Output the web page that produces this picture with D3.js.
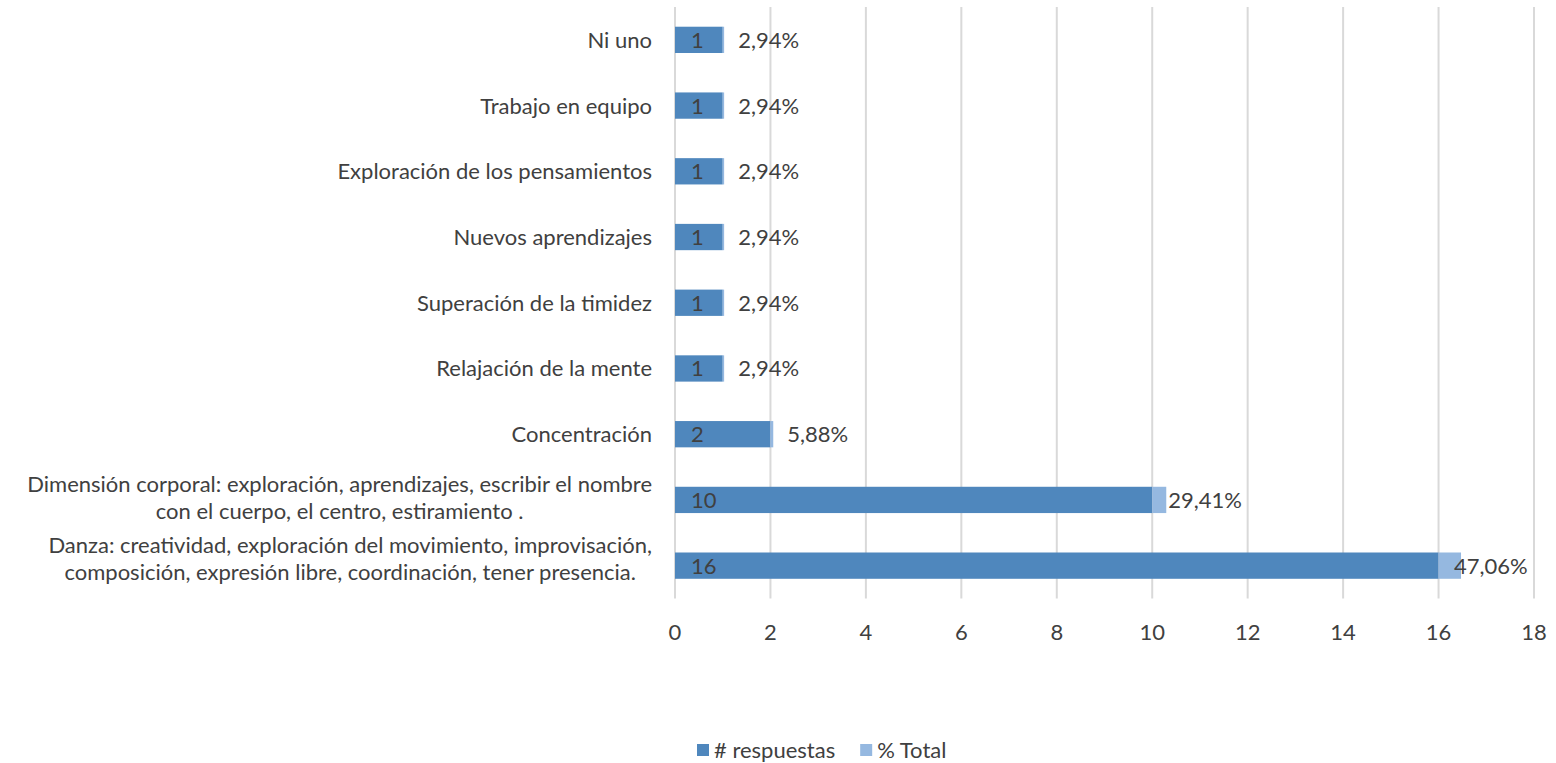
<!DOCTYPE html>
<html>
<head>
<meta charset="utf-8">
<script src="https://cdn.jsdelivr.net/npm/d3@7"></script>
<style>
  body { margin: 0; background: #fff; }
  text { font-family: Lato, "Open Sans", sans-serif; fill: #404040; }
</style>
</head>
<body>
<svg id="chart" width="1556" height="763"></svg>
<script>
// categories top to bottom, each as lines of text
const categories = [
    ["Ni uno"],
    ["Trabajo en equipo"],
    ["Exploración de los pensamientos"],
    ["Nuevos aprendizajes"],
    ["Superación de la timidez"],
    ["Relajación de la mente"],
    ["Concentración"],
    ["Dimensión corporal: exploración, aprendizajes, escribir el nombre", "con el cuerpo, el centro, estiramiento ."],
    ["Danza: creatividad, exploración del movimiento, improvisación,", "composición, expresión libre, coordinación, tener presencia."]
];
const respuestas = [1, 1, 1, 1, 1, 1, 2, 10, 16];
const pctTotal = [0.0294, 0.0294, 0.0294, 0.0294, 0.0294, 0.0294, 0.0588, 0.2941, 0.4706];
const xTicks = [0, 2, 4, 6, 8, 10, 12, 14, 16, 18];
const seriesNames = ["# respuestas", "% Total"];

const colors = ["#4f87bd", "#95b8e0"];
// small per-row shifts of the labels, as in the original
const pctLabelNudge = [14, 14, 14, 14, 14, 14, 14, 2, -7];
const catLabelNudge = [0, 0, 0, 0, 0, 0, 0, -2, -7];

const svg = d3.select("#chart");
const fontSize = 22;

const x = d3.scaleLinear().domain([0, 18]).range([675, 1534]);
const y = d3.scaleBand()
    .domain(d3.range(categories.length))
    .range([7, 598.5])
    .paddingInner(0.6)
    .paddingOuter(0.3);

//gridlines
svg.append("g").selectAll("line")
    .data(xTicks)
    .enter().append("line")
    .attr("x1", d => x(d)).attr("x2", d => x(d))
    .attr("y1", 7).attr("y2", 598.5)
    .style("stroke", "#d9d9d9")
    .style("stroke-width", 2);

//tick labels
svg.append("g").selectAll("text")
    .data(xTicks)
    .enter().append("text")
    .attr("x", d => x(d))
    .attr("y", 632)
    .attr("dy", "0.36em")
    .attr("text-anchor", "middle")
    .style("font-size", fontSize + "px")
    .text(d => d);

const rows = categories.map((c, i) => ({ i, lines: c, n: respuestas[i], p: pctTotal[i] }));

//bars
const barG = svg.append("g");
barG.selectAll(".dark")
    .data(rows).enter().append("rect")
    .attr("x", x(0))
    .attr("y", d => y(d.i))
    .attr("width", d => x(d.n) - x(0))
    .attr("height", y.bandwidth())
    .style("fill", colors[0]);
barG.selectAll(".light")
    .data(rows).enter().append("rect")
    .attr("x", d => x(d.n))
    .attr("y", d => y(d.i))
    .attr("width", d => x(d.n + d.p) - x(d.n))
    .attr("height", y.bandwidth())
    .style("fill", colors[1]);

//value labels
barG.selectAll(".nlab")
    .data(rows).enter().append("text")
    .attr("x", x(0) + 16)
    .attr("y", d => y(d.i) + y.bandwidth() / 2)
    .attr("dy", "0.36em")
    .style("font-size", fontSize + "px")
    .text(d => d.n);
barG.selectAll(".plab")
    .data(rows).enter().append("text")
    .attr("x", d => x(d.n + d.p) + pctLabelNudge[d.i])
    .attr("y", d => y(d.i) + y.bandwidth() / 2)
    .attr("dy", "0.36em")
    .style("font-size", fontSize + "px")
    .text(d => d3.format(".2f")(d.p * 100).replace(".", ",") + "%");

//category labels, multi-line blocks centred and right aligned
const labelRight = 652;
const lineH = 27;
rows.forEach(r => {
    const g = svg.append("g");
    const cy = y(r.i) + y.bandwidth() / 2 + catLabelNudge[r.i];
    const texts = r.lines.map((line, k) => g.append("text")
        .attr("y", cy + (k - (r.lines.length - 1) / 2) * lineH)
        .attr("dy", "0.36em")
        .style("font-size", fontSize + "px")
        .text(line));
    if (r.lines.length === 1) {
        texts[0].attr("x", labelRight).attr("text-anchor", "end");
    } else {
        const maxW = d3.max(texts, t => t.node().getComputedTextLength());
        texts.forEach(t => t.attr("x", labelRight - maxW / 2).attr("text-anchor", "middle"));
    }
});

//legend
const legend = svg.append("g");
let lx = 697;
seriesNames.forEach((name, i) => {
    legend.append("rect")
        .attr("x", lx).attr("y", 744)
        .attr("width", 12).attr("height", 12)
        .style("fill", colors[i]);
    const t = legend.append("text")
        .attr("x", lx + 17).attr("y", 750)
        .attr("dy", "0.36em")
        .style("font-size", fontSize + "px")
        .text(name);
    lx += 17 + t.node().getComputedTextLength() + 25;
});
</script>
</body>
</html>
